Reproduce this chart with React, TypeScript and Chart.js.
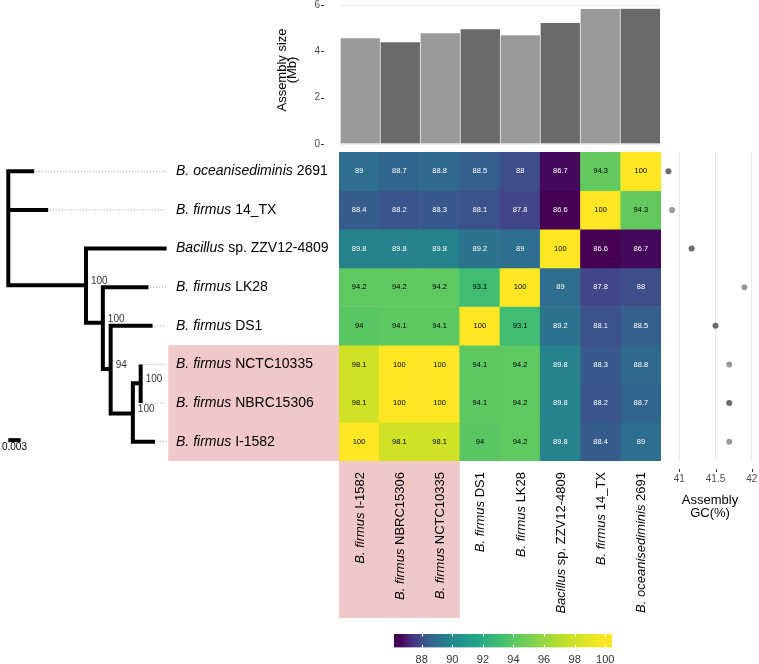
import React, { useEffect, useRef } from "react";
import { Chart, registerables } from "chart.js";
Chart.register(...registerables);

const FONT = "'Liberation Sans', Arial, Helvetica, sans-serif";

// ---------- data ----------
// heatmap rows (top -> bottom)
const rowItalic = ["B. oceanisediminis", "B. firmus", "Bacillus", "B. firmus", "B. firmus", "B. firmus", "B. firmus", "B. firmus"];
const rowRest = [" 2691", " 14_TX", " sp. ZZV12-4809", " LK28", " DS1", " NCTC10335", " NBRC15306", " I-1582"];
// heatmap columns (left -> right)
const colKeys = ["I-1582", "NBRC15306", "NCTC10335", "DS1", "LK28", "ZZV12-4809", "14_TX", "2691"];
const colItalic = ["B. firmus", "B. firmus", "B. firmus", "B. firmus", "B. firmus", "Bacillus", "B. firmus", "B. oceanisediminis"];
const colRest = [" I-1582", " NBRC15306", " NCTC10335", " DS1", " LK28", " sp. ZZV12-4809", " 14_TX", " 2691"];

// ANI values, rows x columns
const aniOcean = [89, 88.7, 88.8, 88.5, 88, 86.7, 94.3, 100];
const ani14TX = [88.4, 88.2, 88.3, 88.1, 87.8, 86.6, 100, 94.3];
const aniZZV = [89.8, 89.8, 89.8, 89.2, 89, 100, 86.6, 86.7];
const aniLK28 = [94.2, 94.2, 94.2, 93.1, 100, 89, 87.8, 88];
const aniDS1 = [94, 94.1, 94.1, 100, 93.1, 89.2, 88.1, 88.5];
const aniNCTC = [98.1, 100, 100, 94.1, 94.2, 89.8, 88.3, 88.8];
const aniNBRC = [98.1, 100, 100, 94.1, 94.2, 89.8, 88.2, 88.7];
const aniI1582 = [100, 98.1, 98.1, 94, 94.2, 89.8, 88.4, 89];
const aniRows = [aniOcean, ani14TX, aniZZV, aniLK28, aniDS1, aniNCTC, aniNBRC, aniI1582];

// assembly size (Mb) per column
const assemblySize = [4.56, 4.39, 4.78, 4.95, 4.69, 5.22, 5.83, 5.84];
const sizeShade = ["light", "dark", "light", "dark", "light", "dark", "light", "dark"];
const sizeTicks = [0, 2, 4, 6];

// GC (%) per row
const gcRow = [40.85, 40.9, 41.17, 41.9, 41.5, 41.69, 41.69, 41.69];
const gcShade = ["dark", "light", "dark", "light", "dark", "light", "dark", "light"];

// tree: nodes with cumulative branch length and vertical position (row units)
const treeNames = ["root", "n1", "n2", "n3", "n4", "n5", "ocean", "14_TX", "ZZV12-4809", "LK28", "DS1", "NCTC10335", "NBRC15306", "I-1582"];
const treeX = [0, 0.0189, 0.0230, 0.0249, 0.0303, 0.0322, 0.0063, 0.0097, 0.0385, 0.0341, 0.0351, 0.0322, 0.0322, 0.0357];
const treeY = [1.47, 2.95, 3.92, 5.12, 6.27, 5.49, 0, 1, 2, 3, 4, 5, 6, 7];
const treeParent = [-1, 0, 1, 2, 3, 4, 0, 0, 1, 2, 3, 5, 5, 4];
const bootstrap = ["", "100", "100", "94", "100", "100", "", "", "", "", "", "", "", ""];
const treeScale = 0.003;

// colour bar
const cbMin = 86.19;
const cbMax = 100.44;
const fillMin = 86.6;
const fillMax = 100;
const fillShift = 84;

// ---------- styles ----------
const LIGHT = "#9a9a9a";
const DARK = "#6a6a6a";
const PINK = "#f1c8c8";
const VIR = ["#440154", "#482475", "#414487", "#355f8d", "#2a788e", "#21918c", "#22a884", "#44bf70", "#7ad151", "#bddf26", "#fde725"];

function hex(h: string) {
  return [parseInt(h.slice(1, 3), 16), parseInt(h.slice(3, 5), 16), parseInt(h.slice(5, 7), 16)];
}
function viridis(t: number) {
  t = Math.max(0, Math.min(1, t));
  const p = t * (VIR.length - 1);
  const i = Math.min(VIR.length - 2, Math.floor(p));
  const f = p - i;
  const a = hex(VIR[i]);
  const b = hex(VIR[i + 1]);
  const c = a.map((v, k) => Math.round(v + (b[k] - v) * f));
  return `rgb(${c[0]},${c[1]},${c[2]})`;
}
function fillFor(v: number) {
  const cv = Math.max(fillMin, Math.min(fillMax, v));
  const t = Math.log((cv - fillShift) / (fillMin - fillShift)) / Math.log((fillMax - fillShift) / (fillMin - fillShift));
  return viridis(t);
}

function drawMixed(ctx: CanvasRenderingContext2D, italic: string, rest: string, x: number, y: number, size: number, align: "left" | "right") {
  ctx.font = `italic ${size}px ${FONT}`;
  const w1 = ctx.measureText(italic).width;
  ctx.font = `${size}px ${FONT}`;
  const w2 = ctx.measureText(rest).width;
  const start = align === "left" ? x : x - (w1 + w2);
  ctx.textAlign = "left";
  ctx.font = `italic ${size}px ${FONT}`;
  ctx.fillText(italic, start, y);
  ctx.font = `${size}px ${FONT}`;
  ctx.fillText(rest, start + w1, y);
}

export default function App() {
  const barRef = useRef<HTMLCanvasElement>(null);
  const treeRef = useRef<HTMLCanvasElement>(null);
  const heatRef = useRef<HTMLCanvasElement>(null);
  const gcRef = useRef<HTMLCanvasElement>(null);
  const cbRef = useRef<HTMLCanvasElement>(null);

  useEffect(() => {
    const charts: Chart[] = [];
    const noPlug = { legend: { display: false }, tooltip: { enabled: false } };

    // ---------- bar chart ----------
    const barDecor = {
      id: "barDecor",
      afterDraw(chart: any) {
        const ctx = chart.ctx;
        const y = chart.scales.y;
        ctx.save();
        ctx.strokeStyle = "#333";
        ctx.lineWidth = 1;
        sizeTicks.forEach((t) => {
          const py = Math.round(y.getPixelForValue(t)) + 0.5;
          ctx.beginPath();
          ctx.moveTo(61, py);
          ctx.lineTo(64, py);
          ctx.stroke();
        });
        ctx.fillStyle = "#000";
        ctx.font = `13px ${FONT}`;
        ctx.textAlign = "center";
        ctx.textBaseline = "middle";
        ctx.translate(0, 70);
        ctx.rotate(-Math.PI / 2);
        ctx.fillText("Assembly size", 0, 22);
        ctx.fillText("(Mb)", 0, 32);
        ctx.restore();
      },
    };
    charts.push(
      new Chart(barRef.current!, {
        type: "bar",
        data: {
          labels: colKeys,
          datasets: [
            {
              data: assemblySize,
              backgroundColor: sizeShade.map((s) => (s === "dark" ? DARK : LIGHT)),
              borderColor: "#f4f4f4",
              borderWidth: { left: 1, right: 0, top: 0, bottom: 0 },
              borderSkipped: false,
              barPercentage: 1,
              categoryPercentage: 1,
            },
          ],
        },
        options: {
          responsive: false,
          animation: false,
          layout: { padding: { top: 5, bottom: 8, left: 0, right: 0 }, autoPadding: false },
          plugins: noPlug,
          scales: {
            x: { display: false },
            y: {
              min: 0,
              max: 6,
              ticks: { stepSize: 2, padding: 20, color: "#4d4d4d", font: { size: 10, family: FONT } },
              grid: { color: "#ebebeb", drawTicks: false },
              border: { display: false },
              afterFit: (s: any) => {
                s.width = 80;
                s.paddingTop = 0;
                s.paddingBottom = 0;
              },
            },
          },
        } as any,
        plugins: [barDecor],
      })
    );

    // ---------- tree ----------
    const alignX = Math.max(...treeX);
    const labelX = 0.0408;
    const highlightX = 0.0389;
    const treeDatasets: any[] = [];
    const tipIdx = treeX.map((_, i) => i).filter((i) => !treeParent.includes(i));
    tipIdx.forEach((i) => {
      if (treeX[i] < alignX - 1e-6) {
        treeDatasets.push({
          data: [
            { x: treeX[i] + 0.0004, y: treeY[i] },
            { x: alignX, y: treeY[i] },
          ],
          showLine: true,
          borderColor: "#9a9a9a",
          borderWidth: 1,
          borderDash: [1, 2],
          pointRadius: 0,
        });
      }
    });
    treeX.forEach((_, n) => {
      const kids = treeParent.map((p, i) => (p === n ? i : -1)).filter((i) => i >= 0);
      if (!kids.length) return;
      kids.sort((a, b) => treeY[a] - treeY[b]);
      const first = kids[0];
      const last = kids[kids.length - 1];
      treeDatasets.push({
        data: [
          { x: treeX[first], y: treeY[first] },
          { x: treeX[n], y: treeY[first] },
          { x: treeX[n], y: treeY[last] },
          { x: treeX[last], y: treeY[last] },
        ],
        showLine: true,
        borderColor: "#000",
        borderWidth: 4,
        borderJoinStyle: "miter",
        pointRadius: 0,
      });
      kids.slice(1, -1).forEach((k) => {
        treeDatasets.push({
          data: [
            { x: treeX[n], y: treeY[k] },
            { x: treeX[k], y: treeY[k] },
          ],
          showLine: true,
          borderColor: "#000",
          borderWidth: 4,
          pointRadius: 0,
        });
      });
    });
    const sbY = 6.96;
    treeDatasets.push({
      data: [
        { x: 0, y: sbY },
        { x: treeScale, y: sbY },
      ],
      showLine: true,
      borderColor: "#000",
      borderWidth: 4,
      pointRadius: 0,
    });
    const treeDecor = {
      id: "treeDecor",
      beforeDatasetsDraw(chart: any) {
        const { ctx, chartArea } = chart;
        const x = chart.scales.x;
        const y = chart.scales.y;
        ctx.save();
        ctx.fillStyle = PINK;
        const x0 = x.getPixelForValue(highlightX);
        const y0 = y.getPixelForValue(4.5);
        const y1 = y.getPixelForValue(7.5);
        ctx.fillRect(x0, y0, chartArea.right - x0, y1 - y0);
        ctx.restore();
      },
      afterDatasetsDraw(chart: any) {
        const { ctx } = chart;
        const x = chart.scales.x;
        const y = chart.scales.y;
        ctx.save();
        ctx.fillStyle = "#000";
        ctx.textBaseline = "middle";
        tipIdx.forEach((i) => {
          const r = treeY[i];
          drawMixed(ctx, rowItalic[r], rowRest[r], x.getPixelForValue(labelX), y.getPixelForValue(r), 14, "left");
        });
        ctx.fillStyle = "#333";
        ctx.font = `10px ${FONT}`;
        ctx.textAlign = "left";
        ctx.textBaseline = "alphabetic";
        bootstrap.forEach((b, i) => {
          if (!b) return;
          ctx.fillText(b, x.getPixelForValue(treeX[i]) + 5, y.getPixelForValue(treeY[i]) - 1);
        });
        ctx.fillStyle = "#000";
        ctx.textAlign = "center";
        ctx.textBaseline = "top";
        ctx.font = `10px ${FONT}`;
        ctx.fillText(String(treeScale), x.getPixelForValue(treeScale / 2), y.getPixelForValue(sbY) + 2);
        ctx.restore();
      },
    };
    charts.push(
      new Chart(treeRef.current!, {
        type: "scatter",
        data: { datasets: treeDatasets },
        options: {
          responsive: false,
          animation: false,
          layout: { padding: 0, autoPadding: false },
          plugins: noPlug,
          scales: {
            x: { display: false, min: -8.3 / 4111, max: (339 - 8.3) / 4111 },
            y: { display: false, min: -0.5, max: 7.5, reverse: true },
          },
        } as any,
        plugins: [treeDecor],
      })
    );

    // ---------- heatmap ----------
    const heatDecor = {
      id: "heatDecor",
      beforeDraw(chart: any) {
        const { ctx, chartArea } = chart;
        const x = chart.scales.x;
        const w = x.width / colKeys.length;
        ctx.save();
        ctx.fillStyle = PINK;
        const x0 = x.getPixelForValue(0) - w / 2;
        const x1 = x.getPixelForValue(2) + w / 2;
        ctx.fillRect(x0, chartArea.bottom, x1 - x0, 157);
        ctx.restore();
      },
      afterDraw(chart: any) {
        const { ctx, chartArea } = chart;
        const x = chart.scales.x;
        ctx.save();
        ctx.textBaseline = "middle";
        ctx.textAlign = "center";
        ctx.font = `7.5px ${FONT}`;
        aniRows.forEach((row, r) => {
          const meta = chart.getDatasetMeta(r);
          row.forEach((v, c) => {
            const el = meta.data[c];
            const cx = el.x;
            const cy = (el.y + el.base) / 2;
            ctx.fillStyle = v < 92 ? "#ffffff" : "#000000";
            ctx.fillText(String(v), cx, cy);
          });
        });
        ctx.fillStyle = "#000";
        colKeys.forEach((_, c) => {
          ctx.save();
          ctx.translate(x.getPixelForValue(c) + 1, chartArea.bottom + 11);
          ctx.rotate(-Math.PI / 2);
          ctx.textBaseline = "middle";
          drawMixed(ctx, colItalic[c], colRest[c], 0, 0, 13, "right");
          ctx.restore();
        });
        ctx.restore();
      },
    };
    charts.push(
      new Chart(heatRef.current!, {
        type: "bar",
        data: {
          labels: colKeys,
          datasets: aniRows.map((row) => ({
            data: row.map(() => 1),
            backgroundColor: row.map((v) => fillFor(v)),
            borderWidth: 0,
            barPercentage: 1,
            categoryPercentage: 1,
            stack: "s",
          })),
        },
        options: {
          responsive: false,
          animation: false,
          layout: { padding: { top: 0, left: 0, right: 0, bottom: 161 }, autoPadding: false },
          plugins: noPlug,
          scales: {
            x: { display: false, stacked: true },
            y: { display: false, stacked: true, min: 0, max: 8, reverse: true },
          },
        } as any,
        plugins: [heatDecor],
      })
    );

    // ---------- GC dots ----------
    const gcDecor = {
      id: "gcDecor",
      afterDraw(chart: any) {
        const { ctx, chartArea } = chart;
        const x = chart.scales.x;
        ctx.save();
        ctx.strokeStyle = "#333";
        ctx.lineWidth = 1;
        x.ticks.forEach((t: any) => {
          const px = Math.round(x.getPixelForValue(t.value)) + 0.5;
          ctx.beginPath();
          ctx.moveTo(px, chartArea.bottom + 8);
          ctx.lineTo(px, chartArea.bottom + 11);
          ctx.stroke();
        });
        ctx.fillStyle = "#000";
        ctx.font = `13px ${FONT}`;
        ctx.textAlign = "center";
        ctx.textBaseline = "middle";
        const cx = (chartArea.left + chartArea.right) / 2;
        ctx.fillText("Assembly", cx, chartArea.bottom + 39);
        ctx.fillText("GC(%)", cx, chartArea.bottom + 52);
        ctx.restore();
      },
    };
    charts.push(
      new Chart(gcRef.current!, {
        type: "scatter",
        data: {
          datasets: [
            {
              data: gcRow.map((v, i) => ({ x: v, y: i })),
              pointBackgroundColor: gcShade.map((s) => (s === "dark" ? DARK : LIGHT)),
              pointBorderWidth: 0,
              pointRadius: 3,
            },
          ],
        },
        options: {
          responsive: false,
          animation: false,
          layout: { padding: 0, autoPadding: false },
          plugins: noPlug,
          scales: {
            x: {
              min: 40.747,
              max: 42.101,
              ticks: {
                stepSize: 0.5,
                includeBounds: false,
                padding: 12,
                color: "#4d4d4d",
                font: { size: 10, family: FONT },
                maxRotation: 0,
                callback: (v: any) => String(Number(v)),
              },
              grid: { color: "#e6e6e6", drawTicks: false },
              border: { display: false },
              afterFit: (s: any) => {
                s.height = 61;
                s.paddingLeft = 0;
                s.paddingRight = 0;
              },
            },
            y: { display: false, min: -0.5, max: 7.5, reverse: true },
          },
        } as any,
        plugins: [gcDecor],
      })
    );

    // ---------- colour bar ----------
    const cbDecor = {
      id: "cbDecor",
      afterDatasetsDraw(chart: any) {
        const { ctx, chartArea } = chart;
        const x = chart.scales.x;
        ctx.save();
        ctx.strokeStyle = "#ffffff";
        ctx.lineWidth = 1;
        x.ticks.forEach((t: any) => {
          const px = Math.round(x.getPixelForValue(t.value)) + 0.5;
          ctx.beginPath();
          ctx.moveTo(px, chartArea.top);
          ctx.lineTo(px, chartArea.top + 2.7);
          ctx.moveTo(px, chartArea.bottom - 2.7);
          ctx.lineTo(px, chartArea.bottom);
          ctx.stroke();
        });
        ctx.restore();
      },
    };
    charts.push(
      new Chart(cbRef.current!, {
        type: "bar",
        data: {
          labels: ["ANI"],
          datasets: [
            {
              data: [[cbMin, cbMax]],
              backgroundColor: (c: any) => {
                const ch = c.chart;
                const a = ch.chartArea;
                if (!a) return DARK;
                const g = ch.ctx.createLinearGradient(a.left, 0, a.right, 0);
                const n = 80;
                for (let k = 0; k <= n; k++) {
                  g.addColorStop(k / n, fillFor(cbMin + ((cbMax - cbMin) * k) / n));
                }
                return g;
              },
              borderWidth: 0,
              barPercentage: 1,
              categoryPercentage: 1,
            },
          ],
        },
        options: {
          indexAxis: "y",
          responsive: false,
          animation: false,
          layout: { padding: { left: 0, right: 24, top: 0, bottom: 0 }, autoPadding: false },
          plugins: noPlug,
          scales: {
            x: {
              min: cbMin,
              max: cbMax,
              ticks: { stepSize: 2, includeBounds: false, padding: 6, color: "#333", font: { size: 11, family: FONT }, maxRotation: 0 },
              grid: { display: false, drawTicks: false },
              border: { display: false },
              afterFit: (s: any) => {
                s.height = 16.5;
                s.paddingLeft = 0;
                s.paddingRight = 0;
              },
            },
            y: { display: false },
          },
        } as any,
        plugins: [cbDecor],
      })
    );

    return () => charts.forEach((c) => c.destroy());
  }, []);

  const abs = (l: number, t: number, w: number, h: number): React.CSSProperties => ({
    position: "absolute",
    left: l,
    top: t,
    width: w,
    height: h,
  });

  return (
    <div style={{ position: "absolute", left: 0, top: 0, width: 759, height: 664, background: "#fff", overflow: "hidden" }}>
      <canvas ref={barRef} width={400} height={152} style={abs(260, 0, 400, 152)} />
      <canvas ref={treeRef} width={339} height={309} style={abs(0, 152, 339, 309)} />
      <canvas ref={heatRef} width={322} height={470} style={abs(339, 152, 322, 470)} />
      <canvas ref={gcRef} width={98} height={370} style={abs(661, 152, 98, 370)} />
      <canvas ref={cbRef} width={242} height={30} style={abs(394, 634, 242, 30)} />
    </div>
  );
}
